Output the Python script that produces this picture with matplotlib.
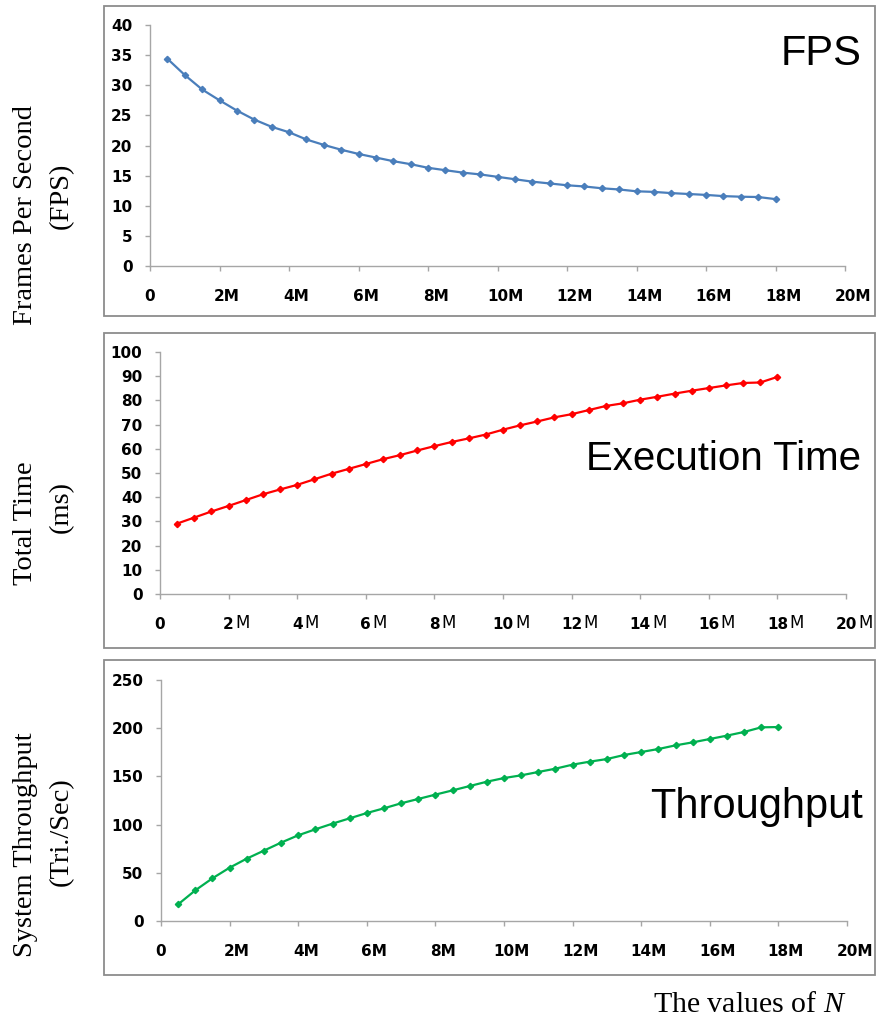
import matplotlib
matplotlib.use("Agg")
import matplotlib.pyplot as plt
from matplotlib.patches import Rectangle
from matplotlib.transforms import ScaledTranslation

plt.rcParams["mathtext.fontset"] = "custom"
plt.rcParams["mathtext.rm"] = "Liberation Serif"
plt.rcParams["mathtext.it"] = "Liberation Serif:italic"

# N in millions
n_values = [0.5, 1.0, 1.5, 2.0, 2.5, 3.0, 3.5, 4.0, 4.5, 5.0, 5.5, 6.0,
            6.5, 7.0, 7.5, 8.0, 8.5, 9.0, 9.5, 10.0, 10.5, 11.0, 11.5, 12.0,
            12.5, 13.0, 13.5, 14.0, 14.5, 15.0, 15.5, 16.0, 16.5, 17.0, 17.5, 18.0]

fps = [34.4, 31.7, 29.3, 27.5, 25.8, 24.3, 23.1, 22.2, 21.0, 20.1, 19.3, 18.6,
       18.0, 17.4, 16.9, 16.3, 15.9, 15.5, 15.2, 14.8, 14.4, 14.0, 13.7, 13.4,
       13.2, 12.9, 12.7, 12.4, 12.3, 12.1, 11.95, 11.8, 11.6, 11.5, 11.45, 11.1]

exec_ms = [29.1, 31.6, 34.1, 36.4, 38.8, 41.2, 43.2, 45.1, 47.4, 49.7, 51.7, 53.7,
           55.7, 57.4, 59.3, 61.1, 62.8, 64.3, 65.9, 67.9, 69.7, 71.3, 73.0, 74.3,
           76.0, 77.7, 78.8, 80.3, 81.5, 82.8, 84.0, 85.1, 86.2, 87.2, 87.4, 89.7]

throughput = [17.3, 31.8, 44.3, 55.3, 64.7, 73.0, 81.3, 88.9, 95.1, 101.0, 106.5, 112.0,
              116.9, 122.1, 126.6, 131.1, 135.5, 140.0, 144.5, 148.3, 151.1, 154.6, 158.0, 162.2,
              165.3, 168.0, 172.2, 175.3, 178.4, 182.2, 185.3, 188.8, 192.3, 196.1, 200.9, 201.2]

x_ticks = [0, 2, 4, 6, 8, 10, 12, 14, 16, 18, 20]
x_labels = ["0", "2M", "4M", "6M", "8M", "10M", "12M", "14M", "16M", "18M", "20M"]
x_numbers = ["0", "2", "4", "6", "8", "10", "12", "14", "16", "18", "20"]

W, H = 877, 1024
fig = plt.figure(figsize=(W / 100, H / 100), dpi=100)

GRAY = "#a6a6a6"
SERIF = "Liberation Serif"
SANS = "Liberation Sans"
TICKFONT = dict(fontweight="bold", fontsize=11, family="DejaVu Sans")


def add_ax(left, top, right, bottom):
    return fig.add_axes([left / W, 1 - bottom / H, (right - left) / W, (bottom - top) / H])


def style(ax, ymax, ystep):
    ax.set_xlim(0, 20)
    ax.set_ylim(0, ymax)
    for s in ["top", "right"]:
        ax.spines[s].set_visible(False)
    for s in ["left", "bottom"]:
        ax.spines[s].set_color(GRAY)
        ax.spines[s].set_linewidth(1.0)
    ax.set_yticks(list(range(0, ymax + 1, ystep)))
    ax.set_yticklabels([str(v) for v in range(0, ymax + 1, ystep)], **TICKFONT)
    ax.set_xticks(x_ticks)
    ax.tick_params(axis="both", direction="out", length=3.6, width=1, color=GRAY,
                   labelcolor="black")
    ax.tick_params(axis="y", pad=9.0)
    ax.tick_params(axis="x", pad=13.0)


def box(top, bottom, left=104, right=875):
    fig.add_artist(Rectangle((left / W, 1 - bottom / H), (right - left) / W, (bottom - top) / H,
                             transform=fig.transFigure, fill=False,
                             edgecolor="#8c8c8c", linewidth=1.3))


def ylab(text, x, y):
    fig.text(x / W, 1 - y / H, text, rotation=90, ha="center", va="center",
             family=SERIF, fontsize=20.5)


# ---- panel 1: FPS
box(6, 316)
ax1 = add_ax(150, 25, 845, 266)
style(ax1, 40, 5)
ax1.set_xticklabels(x_labels, **TICKFONT)
ax1.plot(n_values, fps, color="#4a7ebb", lw=1.6, marker="D", ms=3.2)
ax1.text(862 / W, 1 - 65 / H, "FPS", transform=fig.transFigure, ha="right",
         va="baseline", family=SANS, fontsize=30)
ylab("Frames Per Second", 26, 215)
ylab("(FPS)", 61, 196)

# ---- panel 2: execution time
box(333, 648)
ax2 = add_ax(160, 352, 846, 594)
style(ax2, 100, 10)
ax2.set_xticklabels(x_numbers, **TICKFONT)
for t, lab in zip(x_ticks[1:], x_numbers[1:]):
    dx = len(lab) * 7.66 / 2 + 1.0
    ax2.annotate("M", xy=(t, 0), xycoords=("data", "axes fraction"),
                 xytext=(dx, -21.0), textcoords="offset points",
                 ha="left", va="center", fontsize=12, family="DejaVu Sans")
ax2.plot(n_values, exec_ms, color="#ff0000", lw=1.6, marker="D", ms=3.2)
ax2.text(861 / W, 1 - 470 / H, "Execution Time", transform=fig.transFigure, ha="right",
         va="baseline", family=SANS, fontsize=29)
ylab("Total Time", 26, 523)
ylab("(ms)", 61, 507)

# ---- panel 3: throughput
box(660, 975)
ax3 = add_ax(161, 680, 847, 921)
style(ax3, 250, 50)
ax3.set_xticklabels(x_labels, **TICKFONT)
ax3.plot(n_values, throughput, color="#00b050", lw=1.6, marker="D", ms=3.2)
ax3.text(863 / W, 1 - 818 / H, "Throughput", transform=fig.transFigure, ha="right",
         va="baseline", family=SANS, fontsize=30)
ylab("System Throughput", 26, 845)
ylab("(Tri./Sec)", 61, 832)

# shift "xM" labels so the number sits on the tick (like the original)
shift = ScaledTranslation(7.5 / 100, 0, fig.dpi_scale_trans)
for ax in [ax1, ax3]:
    for lab in ax.get_xticklabels()[1:]:
        lab.set_transform(lab.get_transform() + shift)

fig.text(750 / W, 1 - 1012 / H, "The values of $N$", ha="center", va="baseline",
         family=SERIF, fontsize=21.5)

fig.savefig("out.png", dpi=100)
